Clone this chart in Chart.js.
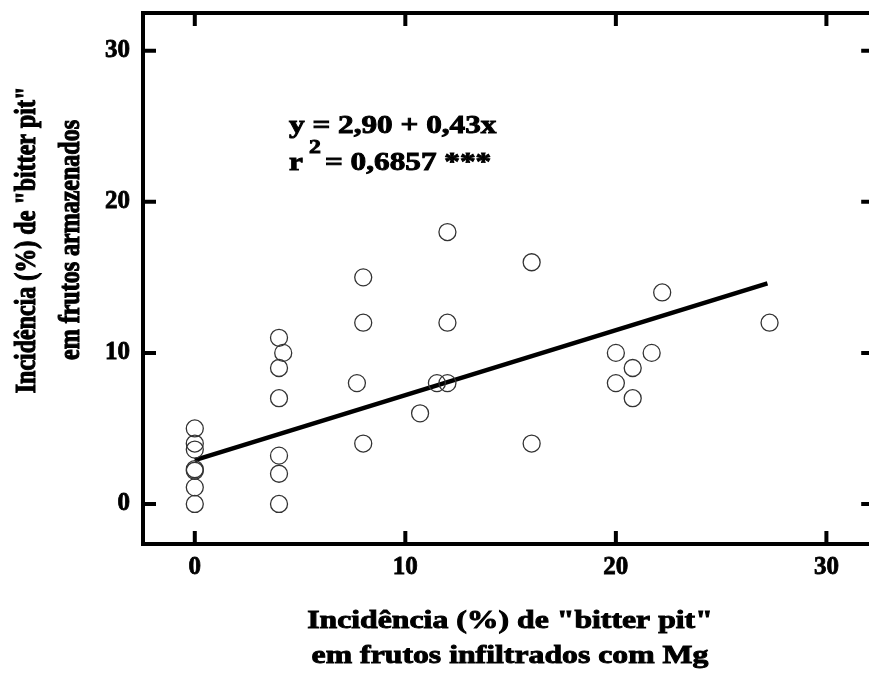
<!DOCTYPE html>
<html>
<head>
<meta charset="utf-8">
<script src="https://cdn.jsdelivr.net/npm/chart.js@4/dist/chart.umd.min.js"></script>
<style>
  html, body { margin: 0; padding: 0; background: #fff; overflow: hidden; }
  #wrap { width: 884px; height: 673px; }
</style>
</head>
<body>
<div id="wrap"><canvas id="mainChart" width="884" height="673"></canvas></div>
<script>
// observed points: incidence in Mg-infiltrated fruit (x) vs stored fruit (y)
var pointsX = [0, 0, 0, 0, 0, 0, 0,
  4, 4, 4, 4, 4, 4, 4.2,
  8, 8, 8, 7.7, 10.7,
  12, 12, 12, 11.5, 16, 16,
  20, 21.7, 20.8, 20, 20.8, 22.2, 27.3];
var pointsY = [5, 4, 3.6, 2.3, 2.2, 1.1, 0,
  11, 9, 7, 3.2, 2, 0, 10,
  15, 12, 4, 8, 6,
  18, 12, 8, 8, 16, 4,
  10, 10, 9, 8, 7, 14, 12];

// fitted line y = 2,90 + 0,43x, ends
var lineX = [0, 27.2];
var lineY = [2.9, 14.6];

var xTicks = [0, 10, 20, 30];
var yTicks = [0, 10, 20, 30];

var xTitle = ['Incidência (%) de "bitter pit"', 'em frutos infiltrados com Mg'];
var yTitle = ['Incidência (%) de "bitter pit"', 'em frutos armazenados'];
var eqLine1 = 'y = 2,90 + 0,43x';
var eqLine2 = '= 0,6857 ***';

var serif = '"Liberation Serif", "Times New Roman", serif';
var stretch = 1.25; // the source picture is wider than tall, text looks widened

function toXY (xs, ys) {
  return xs.map(function (x, i) { return { x: x, y: ys[i] }; });
}

function fixTicks (list) {
  return function (scale) {
    scale.ticks = list.map(function (v) { return { value: v }; });
  };
}

// heavy text, widened along x of the current frame
function wideText (c, txt, x, y, sx) {
  c.save();
  c.translate(x, y);
  c.scale(sx, 1);
  c.lineWidth = 0.9;
  c.strokeText(txt, 0, 0);
  c.fillText(txt, 0, 0);
  c.restore();
}

// inward tick marks on all four sides of the frame
var frameTicks = {
  id: 'frameTicks',
  afterDatasetsDraw: function (chart) {
    var c = chart.ctx, a = chart.chartArea, len = 13;
    var sx = chart.scales.x, sy = chart.scales.y;
    c.save();
    c.strokeStyle = '#000';
    c.lineWidth = 4;
    xTicks.forEach(function (v) {
      var px = sx.getPixelForValue(v);
      c.beginPath();
      c.moveTo(px, a.bottom); c.lineTo(px, a.bottom - len);
      c.moveTo(px, a.top); c.lineTo(px, a.top + len);
      c.stroke();
    });
    yTicks.forEach(function (v) {
      var py = sy.getPixelForValue(v);
      c.beginPath();
      c.moveTo(a.left, py); c.lineTo(a.left + len, py);
      c.moveTo(a.right, py); c.lineTo(a.right - len, py);
      c.stroke();
    });
    c.restore();
  }
};

// axis titles and the regression text
var labels = {
  id: 'labels',
  afterDraw: function (chart) {
    var c = chart.ctx;
    c.save();
    c.fillStyle = '#000';
    c.strokeStyle = '#000';
    c.textAlign = 'center';
    c.textBaseline = 'middle';
    c.font = 'bold 24px ' + serif;
    c.translate(28, 240);
    c.rotate(-Math.PI / 2);
    c.save(); c.scale(1, 1.2); c.lineWidth = 0.9;
    c.strokeText(yTitle[0], 0, 0); c.fillText(yTitle[0], 0, 0);
    c.restore();
    c.save(); c.translate(0, 44); c.scale(1, 1.2); c.lineWidth = 0.9;
    c.strokeText(yTitle[1], 0, 0); c.fillText(yTitle[1], 0, 0);
    c.restore();
    c.restore();

    c.save();
    c.fillStyle = '#000';
    c.strokeStyle = '#000';
    c.textAlign = 'center';
    c.textBaseline = 'alphabetic';
    c.font = 'bold 25px ' + serif;
    wideText(c, xTitle[0], 510, 628, 1.27);
    wideText(c, xTitle[1], 510, 663, 1.27);

    c.textAlign = 'left';
    wideText(c, eqLine1, 289, 133, stretch);
    wideText(c, 'r', 289, 170, stretch);
    c.font = 'bold 19px ' + serif;
    wideText(c, '2', 309, 153, stretch);
    c.font = 'bold 25px ' + serif;
    wideText(c, eqLine2, 325, 170, stretch);
    c.restore();
  }
};

var ctx = document.getElementById('mainChart');

var tickFont = { family: serif, size: 25, weight: 'bold' };

var myChart = new Chart(ctx, {
  type: 'scatter',
  data: {
    datasets: [{
      label: 'obs',
      data: toXY(pointsX, pointsY),
      pointRadius: 8.5,
      pointHoverRadius: 8.5,
      pointBorderWidth: 1.3,
      pointBorderColor: '#333',
      pointBackgroundColor: 'rgba(0,0,0,0)'
    }, {
      label: 'fit',
      type: 'line',
      data: toXY(lineX, lineY),
      borderColor: '#000',
      borderWidth: 4.5,
      pointRadius: 0,
      fill: false
    }]
  },
  options: {
    responsive: false,
    animation: false,
    layout: { padding: { left: 0, top: 13, right: 8, bottom: 0 } },
    plugins: {
      legend: { display: false },
      tooltip: { enabled: false }
    },
    scales: {
      x: {
        type: 'linear',
        position: 'bottom',
        min: -2.46,
        max: 32.27,
        afterBuildTicks: fixTicks(xTicks),
        afterFit: function (s) { s.height = 129; s.paddingLeft = 0; s.paddingRight = 0; },
        grid: { display: false, drawTicks: false },
        border: { display: true, color: '#000', width: 4 },
        ticks: {
          color: '#000',
          textStrokeColor: '#000',
          textStrokeWidth: 0.8,
          padding: 9,
          font: tickFont
        }
      },
      x2: {
        type: 'linear',
        position: 'top',
        min: -2.46,
        max: 32.27,
        afterFit: function (s) { s.height = 0; s.paddingLeft = 0; s.paddingRight = 0; },
        grid: { display: false, drawTicks: false },
        border: { display: true, color: '#000', width: 4 },
        ticks: { display: false }
      },
      y: {
        type: 'linear',
        position: 'left',
        min: -2.65,
        max: 32.5,
        afterBuildTicks: fixTicks(yTicks),
        afterFit: function (s) { s.width = 143; s.paddingTop = 0; s.paddingBottom = 0; },
        grid: { display: false, drawTicks: false },
        border: { display: true, color: '#000', width: 4 },
        ticks: {
          color: '#000',
          textStrokeColor: '#000',
          textStrokeWidth: 0.8,
          padding: 13,
          font: tickFont
        }
      },
      y2: {
        type: 'linear',
        position: 'right',
        min: -2.65,
        max: 32.5,
        afterFit: function (s) { s.width = 0; s.paddingTop = 0; s.paddingBottom = 0; },
        grid: { display: false, drawTicks: false },
        border: { display: true, color: '#000', width: 4 },
        ticks: { display: false }
      }
    }
  },
  plugins: [frameTicks, labels]
});
</script>
</body>
</html>
